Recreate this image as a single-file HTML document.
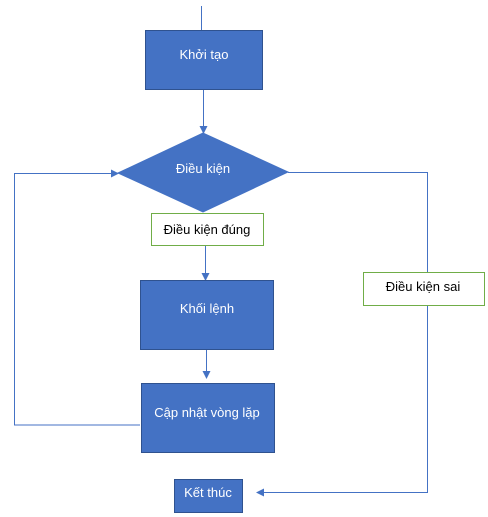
<!DOCTYPE html>
<html><head><meta charset="utf-8"><style>
html,body{margin:0;padding:0;background:#fff;}
svg{display:block;}
text{font-family:"Liberation Sans","DejaVu Sans",sans-serif;font-size:13px;}
</style></head><body>
<svg width="488" height="517" viewBox="0 0 488 517" xmlns="http://www.w3.org/2000/svg">
<defs><marker id="a" markerWidth="8" markerHeight="8" refX="7" refY="4" orient="auto" markerUnits="userSpaceOnUse"><path d="M0,0 L8,4 L0,8 Z" fill="#4472C4"/></marker></defs>
<g stroke="#4472C4" stroke-width="1" fill="none">
<line x1="201.5" y1="6" x2="201.5" y2="30"/>
<line x1="203.5" y1="89" x2="203.5" y2="133" marker-end="url(#a)"/>
<polyline points="140,425 14.5,425 14.5,173.5 118,173.5" marker-end="url(#a)"/>
<polyline points="288,172.5 427.5,172.5 427.5,492.5 257,492.5" marker-end="url(#a)"/>
<line x1="205.5" y1="245" x2="205.5" y2="280" marker-end="url(#a)"/>
<line x1="206.5" y1="349" x2="206.5" y2="378" marker-end="url(#a)"/>
</g>
<g fill="#4472C4" stroke="#2F528F" stroke-width="1">
<rect x="145.5" y="30.5" width="117" height="59"/>
<polygon points="118,173 203,133 288,172 203,212" stroke="#4472C4"/>
<rect x="140.5" y="280.5" width="133" height="69"/>
<rect x="141.5" y="383.5" width="133" height="69"/>
<rect x="174.5" y="479.5" width="68" height="33"/>
</g>
<g fill="#fff" stroke="#70AD47" stroke-width="1">
<rect x="151.5" y="213.5" width="112" height="32"/>
<rect x="363.5" y="272.5" width="121" height="33"/>
</g>
<g fill="#fff" text-anchor="middle">
<text x="204" y="59">Khởi tạo</text>
<text x="203" y="173">Điều kiện</text>
<text x="207" y="313">Khối lệnh</text>
<text x="207" y="417">Cập nhật vòng lặp</text>
<text x="208" y="497" font-size="12">Kết thúc</text>
</g>
<g fill="#000" text-anchor="middle">
<text x="207" y="234">Điều kiện đúng</text>
<text x="423" y="291">Điều kiện sai</text>
</g>
</svg>
</body></html>
